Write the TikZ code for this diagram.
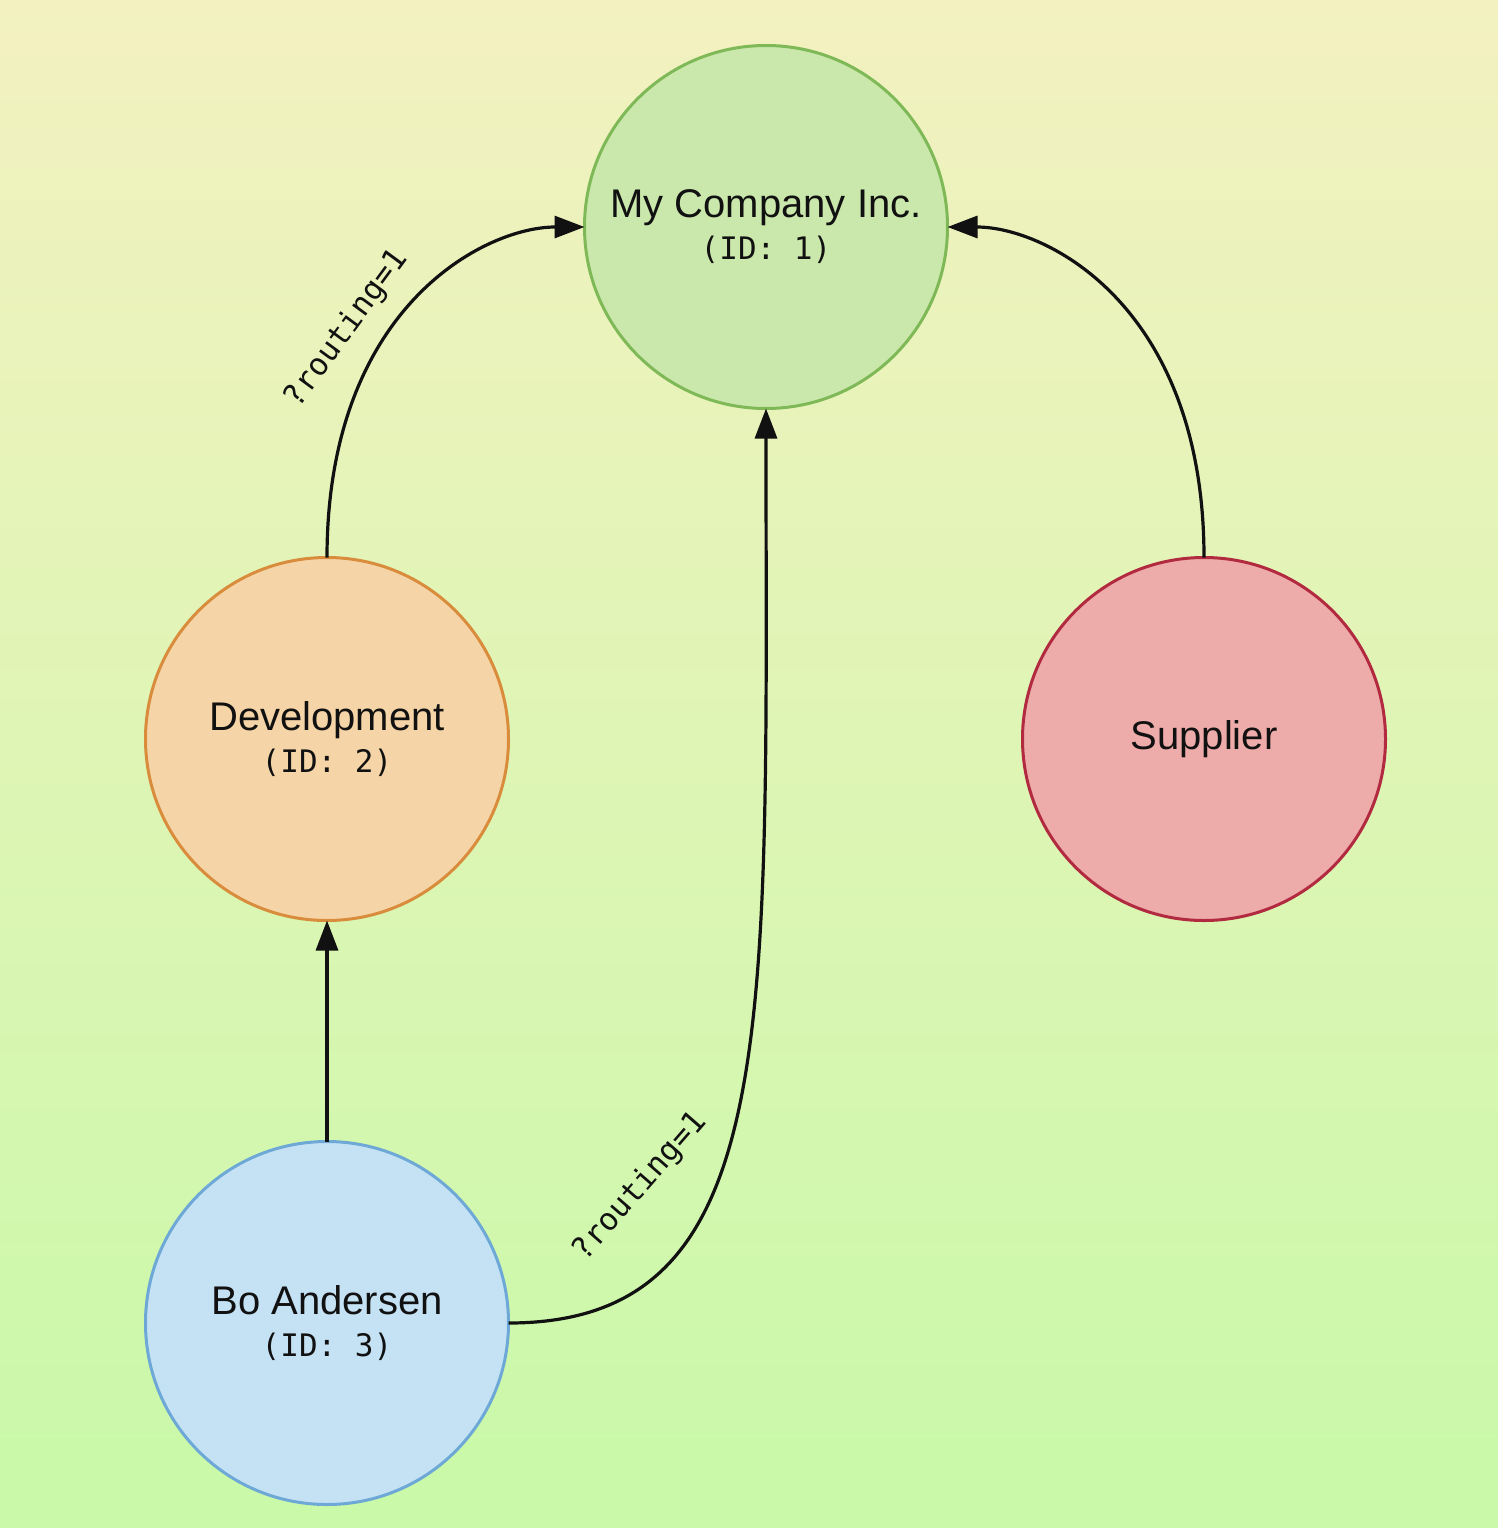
\documentclass[tikz,border=0pt]{standalone}
\usepackage{fontspec}
\setmainfont{Liberation Sans}
\newfontfamily\monof{DejaVu Sans Mono}
\usetikzlibrary{arrows.meta}
\definecolor{bgtop}{HTML}{F3F1C0}
\definecolor{bgmid}{HTML}{DDF4B0}
\definecolor{bgbot}{HTML}{C9F9A9}
\definecolor{cofill}{HTML}{CBE8AC}
\definecolor{codraw}{HTML}{7FB957}
\definecolor{devfill}{HTML}{F5D5A7}
\definecolor{devdraw}{HTML}{D98C3C}
\definecolor{supfill}{HTML}{EDABA9}
\definecolor{supdraw}{HTML}{B22A3F}
\definecolor{bofill}{HTML}{C5E2F4}
\definecolor{bodraw}{HTML}{6DA8D6}
\definecolor{ink}{HTML}{111111}
\begin{document}
\begin{tikzpicture}[x=1pt,y=-1pt,
  ent/.style={circle, draw, line width=3pt, minimum size=363pt, inner sep=0pt,
    outer sep=0pt, align=center, text=ink, font=\fontsize{40}{42}\selectfont},
  conn/.style={draw=ink, line width=3.2pt, -{Triangle[length=30pt,width=22pt]}},
  lbl/.style={font=\monof\fontsize{31}{36}\selectfont, inner sep=0pt, text=ink},
]
\shade[top color=bgtop, middle color=bgmid, bottom color=bgbot] (0,0) rectangle (1498,1528);
\useasboundingbox (0,0) rectangle (1498,1528);

\node[ent, fill=cofill, draw=codraw] (co) at (766,227)
  {My Company Inc.\\{\monof\fontsize{31}{42}\selectfont (ID: 1)}};
\node[ent, fill=devfill, draw=devdraw] (dev) at (327,739)
  {Development\\{\monof\fontsize{31}{42}\selectfont (ID: 2)}};
\node[ent, fill=supfill, draw=supdraw] (sup) at (1204,739) {Supplier};
\node[ent, fill=bofill, draw=bodraw] (bo) at (327,1323)
  {Bo Andersen\\{\monof\fontsize{31}{42}\selectfont (ID: 3)}};

\draw[conn] (dev.north) .. controls +(0,-250) and +(-100,0) .. (co.west);
\draw[conn] (sup.north) .. controls +(0,-250) and +(100,0) .. (co.east);
\draw[conn] (bo.north) -- (dev.south);
\draw[conn] (bo.east) .. controls +(275,0) and +(0,620) .. (co.south);

\node[lbl, rotate=53.7] (l1) at (347,329) {?routing=1};
\node[lbl, rotate=49] (l2) at (640,1187) {?routing=1};
\end{tikzpicture}
\end{document}
